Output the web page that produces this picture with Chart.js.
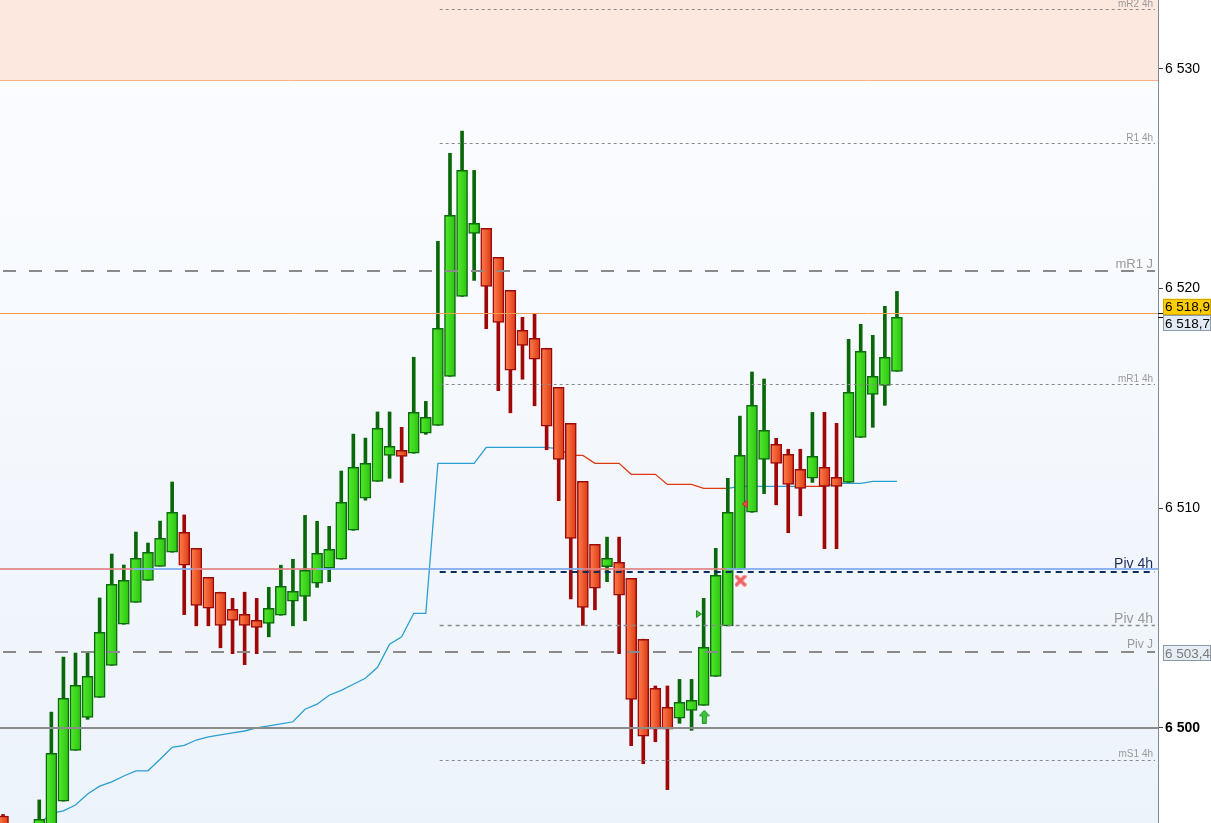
<!DOCTYPE html>
<html>
<head>
<meta charset="utf-8">
<script src="https://cdn.jsdelivr.net/npm/chart.js@4.4.0/dist/chart.umd.min.js"></script>
<style>
html, body { margin: 0; padding: 0; background: #fff; overflow: hidden; }
canvas { display: block; }
</style>
</head>
<body>
<canvas id="chart" width="1211" height="823"></canvas>
<script>
// Bougies (index 0 = la plus ancienne, à gauche)
const opens  = [6495.98,6495.3,6494.9,6495.3,6495.5,6496.65,6498.97,6500.47,6501.38,6502.84,
                6504.71,6505.71,6506.71,6507.35,6507.99,6508.90,6508.17,6506.85,6506.17,6505.39,
                6505.16,6504.89,6504.75,6505.12,6505.76,6505.98,6506.58,6507.26,6507.67,6508.99,
                6510.45,6511.22,6512.40,6512.63,6512.50,6513.41,6513.77,6516.00,6519.64,6522.51,
                6522.74,6521.42,6519.92,6518.10,6517.73,6517.28,6515.50,6513.86,6511.22,6508.35,
                6507.33,6507.53,6506.80,6504.03,6501.79,6500.93,6500.43,6500.79,6501.02,6502.34,
                6504.63,6507.21,6509.81,6512.22,6512.91,6512.45,6511.77,6511.36,6511.86,6511.40,
                6511.17,6513.22,6515.18,6515.59,6516.23];
const highs  = [6496.05,6495.5,6495.5,6496.71,6500.71,6503.22,6503.40,6503.40,6505.91,6507.91,
                6507.41,6508.91,6508.41,6509.41,6511.19,6509.69,6508.17,6506.85,6506.17,6505.89,
                6506.17,6505.89,6506.39,6507.40,6507.67,6509.67,6509.40,6509.17,6511.69,6513.37,
                6513.19,6514.38,6514.38,6513.68,6516.87,6514.86,6522.15,6526.16,6527.17,6525.38,
                6522.74,6521.42,6519.92,6518.69,6518.83,6517.28,6515.50,6513.86,6511.22,6508.35,
                6508.68,6508.68,6506.80,6504.03,6501.90,6501.90,6502.20,6502.20,6505.89,6508.17,
                6511.36,6514.19,6516.20,6515.88,6513.18,6512.68,6512.68,6514.36,6514.36,6513.86,
                6517.69,6518.37,6517.87,6519.19,6519.87];
const lows   = [6495.0,6494.5,6494.6,6495.2,6495.4,6496.65,6498.97,6500.38,6501.38,6502.84,
                6504.71,6505.71,6506.71,6507.35,6507.99,6505.15,6504.64,6504.64,6503.64,6503.37,
                6502.87,6503.37,6504.14,6505.12,6504.64,6504.87,6506.39,6506.65,6507.67,6508.99,
                6510.36,6511.22,6511.36,6511.17,6512.50,6513.36,6513.77,6516.00,6519.64,6520.37,
                6518.17,6515.35,6514.34,6515.87,6514.66,6512.66,6510.34,6505.87,6504.66,6505.37,
                6506.65,6503.37,6499.18,6498.36,6499.36,6497.18,6500.20,6499.88,6501.02,6502.34,
                6504.63,6507.21,6509.81,6510.66,6510.15,6508.88,6509.65,6511.17,6508.15,6508.15,
                6511.17,6513.22,6513.68,6514.68,6516.23];
const closes = [6495.3,6494.8,6495.2,6495.83,6498.83,6501.34,6501.93,6502.34,6504.34,6506.53,
                6506.71,6507.71,6507.99,6508.62,6509.81,6507.40,6505.57,6505.44,6504.66,6504.89,
                6504.66,6504.57,6505.44,6506.44,6506.21,6507.17,6507.94,6508.12,6510.26,6511.86,
                6512.04,6513.63,6512.81,6512.36,6514.36,6514.13,6518.19,6523.33,6525.38,6522.97,
                6520.10,6518.46,6516.28,6517.41,6516.78,6513.73,6512.22,6508.62,6505.48,6506.35,
                6507.71,6506.03,6501.29,6499.61,6499.93,6499.93,6501.16,6501.25,6503.66,6506.94,
                6509.81,6512.40,6514.68,6513.54,6512.04,6511.08,6510.90,6512.36,6510.99,6510.99,
                6515.27,6517.14,6516.00,6516.87,6518.69];

// Stop suiveur (b = support bleu, r = résistance rouge)
const trail = [null,null,null,6495.62,6496.10,6496.21,6496.48,6496.98,6497.34,6497.53,
               6497.80,6498.03,6498.04,6498.56,6499.11,6499.20,6499.44,6499.58,6499.67,6499.76,
               6499.85,6499.99,6500.08,6500.17,6500.27,6500.84,6501.07,6501.48,6501.70,6501.98,
               6502.25,6502.75,6503.80,6504.14,6505.21,6505.21,6512.04,6512.04,6512.04,6512.04,
               6512.77,6512.77,6512.77,6512.77,6512.77,6512.77,6512.70,6512.40,6512.40,6512.04,
               6512.04,6512.04,6511.54,6511.54,6511.54,6511.08,6511.08,6511.08,6510.90,6510.90,
               6510.90,6510.99,6510.99,6510.99,6510.99,6510.99,6510.99,6510.99,6510.99,6511.13,
               6511.13,6511.13,6511.22,6511.22,6511.22];
const trailSide = ['b','b','b','b','b','b','b','b','b','b','b','b','b','b','b','b','b','b','b','b',
                   'b','b','b','b','b','b','b','b','b','b','b','b','b','b','b','b','b','b','b','b',
                   'b','b','b','b','b','b','r','r','r','r','r','r','r','r','r','r','r','r','r','r',
                   'b','b','b','b','b','b','r','r','b','b','b','b','b','b','b'];

// Graduations
const yTicks = [6500, 6510, 6520, 6530];

// Niveaux horizontaux
const levelLabels = ['mR2 4h', 'R1 4h', 'mR1 J', 'mR1 4h', 'Piv 4h', 'Piv 4h', 'Piv J', 'mS1 4h'];
const levelValues = [6532.73, 6526.61, 6520.80, 6515.65, 6507.10, 6504.69, 6503.45, 6498.53];
const levelFrom   = [35.9, 35.9, null, 35.9, 35.9, 35.9, null, 35.9];

// Pivot 4h précédent (rouge sous le prix, bleu au-dessus)
const pivotValue = 6507.24;
const pivotSegFrom = [-0.25, 10.76, 15.73, 26.0, 48.0, 59.9];
const pivotSegSide = ['r', 'b', 'r', 'b', 'r', 'b'];

const zoneLow = 6529.49;
const roundLevel = 6500;
const lastPrice = 6518.9;
const lastClose = 6518.7;
const pivJValue = 6503.4;

// Signaux
const markerX = [57.6, 58.05, 61.4, 61.05];
const markerY = [6505.18, 6500.50, 6510.19, 6506.70];
const markerKind = ['tri-right', 'arrow-up', 'tri-left', 'cross'];

const FONT = '"Liberation Sans", Arial, sans-serif';
const idx = opens.map((_, i) => i);

function fmt(v, dec) {
    const s = v.toFixed(dec).split('.');
    const ent = s[0].replace(/\B(?=(\d{3})+(?!\d))/g, ' ');
    return s.length > 1 ? ent + ',' + s[1] : ent;
}

function isUp(i) { return closes[i] >= opens[i]; }

function bodyFill(c) {
    const i = c.dataIndex;
    const up = isUp(i);
    const chart = c.chart;
    const sx = chart.scales && chart.scales.x;
    if (!sx || !chart.chartArea) return up ? '#3ad61a' : '#ee5a2c';
    const px = sx.getPixelForValue(i);
    const g = chart.ctx.createLinearGradient(px - 5, 0, px + 5, 0);
    if (up) { g.addColorStop(0, '#52ea2c'); g.addColorStop(1, '#2cc412'); }
    else { g.addColorStop(0, '#ff7c4a'); g.addColorStop(1, '#dc3c16'); }
    return g;
}

// petites icônes des signaux
function icon(w, h, draw) {
    const c = document.createElement('canvas');
    c.width = w; c.height = h;
    draw(c.getContext('2d'));
    return c;
}
const icons = {
    'arrow-up': icon(11, 14, g => {
        g.fillStyle = '#3cc43c';
        g.strokeStyle = '#1f9a1f';
        g.lineWidth = 1;
        g.beginPath();
        g.moveTo(5.5, 0.5); g.lineTo(10.5, 6); g.lineTo(7.5, 6); g.lineTo(7.5, 13.5);
        g.lineTo(3.5, 13.5); g.lineTo(3.5, 6); g.lineTo(0.5, 6); g.closePath();
        g.fill(); g.stroke();
    }),
    'tri-right': icon(6, 8, g => {
        g.fillStyle = '#3cc43c';
        g.strokeStyle = '#1a8f1a';
        g.beginPath();
        g.moveTo(0.5, 0.5); g.lineTo(5.5, 4); g.lineTo(0.5, 7.5); g.closePath();
        g.fill(); g.stroke();
    }),
    'tri-left': icon(6, 8, g => {
        g.fillStyle = '#e85050';
        g.strokeStyle = '#c03030';
        g.beginPath();
        g.moveTo(5.5, 0.5); g.lineTo(0.5, 4); g.lineTo(5.5, 7.5); g.closePath();
        g.fill(); g.stroke();
    }),
    'cross': icon(12, 12, g => {
        g.strokeStyle = '#f06262';
        g.lineWidth = 3.5;
        g.lineCap = 'round';
        g.beginPath();
        g.moveTo(2, 2); g.lineTo(10, 10); g.moveTo(10, 2); g.lineTo(2, 10);
        g.stroke();
    })
};

const levelLook = [
    { dash: [3, 3], w: 1, color: '#8a8a8a', size: 10, text: '#9a9a9a', off: 3 },
    { dash: [3, 3], w: 1, color: '#8a8a8a', size: 10, text: '#9a9a9a', off: 3 },
    { dash: [13, 13], w: 2, color: '#8a8a8a', size: 13, text: '#9a9a9a', off: 3 },
    { dash: [3, 3], w: 1, color: '#8a8a8a', size: 10, text: '#9a9a9a', off: 3 },
    { dash: [6, 5], w: 2, color: '#0b2d5c', size: 14, text: '#1b2d55', off: 4 },
    { dash: [4, 4], w: 1.5, color: '#8a8a8a', size: 14, text: '#9a9a9a', off: 3 },
    { dash: [13, 13], w: 2, color: '#8a8a8a', size: 12, text: '#9a9a9a', off: 4 },
    { dash: [3, 3], w: 1, color: '#8a8a8a', size: 10, text: '#9a9a9a', off: 4 }
];

const overlay = {
    id: 'overlay',
    beforeDraw(chart) {
        const { ctx, chartArea: a, scales: { y } } = chart;
        ctx.save();
        ctx.fillStyle = '#ffffff';
        ctx.fillRect(0, 0, chart.width, chart.height);
        const bg = ctx.createLinearGradient(0, a.top, 0, a.bottom);
        bg.addColorStop(0, '#fcfdff');
        bg.addColorStop(1, '#edf3fb');
        ctx.fillStyle = bg;
        ctx.fillRect(a.left, a.top, a.right - a.left, a.bottom - a.top);
        // zone haute
        const zy = y.getPixelForValue(zoneLow);
        ctx.fillStyle = '#fde8df';
        ctx.fillRect(a.left, a.top, a.right - a.left, zy - a.top);
        ctx.strokeStyle = '#f8b088';
        ctx.lineWidth = 1;
        ctx.beginPath();
        ctx.moveTo(a.left, Math.round(zy) + 0.5);
        ctx.lineTo(a.right, Math.round(zy) + 0.5);
        ctx.stroke();
        ctx.restore();
    },
    afterDatasetsDraw(chart) {
        const { ctx, chartArea: a, scales: { x, y } } = chart;
        ctx.save();
        ctx.beginPath();
        ctx.rect(a.left, a.top, a.right - a.left, a.bottom - a.top);
        ctx.clip();

        // pivot 4h précédent, bicolore
        const py = Math.round(y.getPixelForValue(pivotValue));
        ctx.lineWidth = 2;
        pivotSegFrom.forEach((f, k) => {
            const x0 = Math.max(a.left, x.getPixelForValue(f));
            const x1 = k + 1 < pivotSegFrom.length ? x.getPixelForValue(pivotSegFrom[k + 1]) : a.right;
            ctx.strokeStyle = pivotSegSide[k] === 'r' ? 'rgba(226,130,130,0.85)' : 'rgba(130,172,240,0.9)';
            ctx.beginPath();
            ctx.moveTo(x0, py);
            ctx.lineTo(x1, py);
            ctx.stroke();
        });

        // dernier cours
        const ly = Math.round(y.getPixelForValue(lastPrice)) + 0.5;
        ctx.strokeStyle = '#f59a4e';
        ctx.lineWidth = 1;
        ctx.beginPath();
        ctx.moveTo(a.left, ly);
        ctx.lineTo(a.right, ly);
        ctx.stroke();

        // 6500
        const ry = Math.round(y.getPixelForValue(roundLevel));
        ctx.strokeStyle = '#8c8c8c';
        ctx.lineWidth = 2;
        ctx.beginPath();
        ctx.moveTo(a.left, ry);
        ctx.lineTo(a.right, ry);
        ctx.stroke();

        // niveaux pointillés
        levelValues.forEach((v, k) => {
            const look = levelLook[k];
            const yy = Math.round(y.getPixelForValue(v)) + (look.w % 2 ? 0.5 : 0);
            const x0 = levelFrom[k] === null ? a.left : x.getPixelForValue(levelFrom[k]);
            ctx.strokeStyle = look.color;
            ctx.lineWidth = look.w;
            ctx.setLineDash(look.dash);
            ctx.lineDashOffset = -3;
            ctx.beginPath();
            ctx.moveTo(x0, yy);
            ctx.lineTo(a.right - 3, yy);
            ctx.stroke();
            ctx.setLineDash([]);
            ctx.fillStyle = look.text;
            ctx.font = look.size + 'px ' + FONT;
            ctx.textAlign = 'right';
            ctx.textBaseline = 'alphabetic';
            ctx.fillText(levelLabels[k], a.right - 5, yy - look.off);
        });
        ctx.restore();
    },
    afterDraw(chart) {
        const { ctx, chartArea: a, scales: { y } } = chart;
        ctx.save();
        const bx = a.right + 5, bw = 48, bh = 16;
        function box(cy, txt, fill, stroke, color) {
            ctx.fillStyle = fill;
            ctx.fillRect(bx, cy - bh / 2, bw, bh);
            ctx.strokeStyle = stroke;
            ctx.lineWidth = 1;
            ctx.strokeRect(bx + 0.5, Math.round(cy - bh / 2) + 0.5, bw - 1, bh - 1);
            ctx.fillStyle = color;
            ctx.font = '13.5px ' + FONT;
            ctx.textAlign = 'left';
            ctx.textBaseline = 'middle';
            ctx.fillText(txt, bx + 2, cy + 1);
        }
        const ly = y.getPixelForValue(lastPrice);
        const cy = y.getPixelForValue(lastClose);
        box(ly - 6, fmt(lastPrice, 1), '#ffcc00', '#d4a800', '#000');
        box(cy + 6, fmt(lastClose, 1), '#e2eaf4', '#8d9cab', '#000');
        box(y.getPixelForValue(pivJValue), fmt(pivJValue, 1), '#e6edf5', '#8a99a8', '#7a7a7a');
        ctx.strokeStyle = '#000';
        ctx.lineWidth = 1;
        [ly, cy].forEach(v => {
            ctx.beginPath();
            ctx.moveTo(a.right, Math.round(v) + 0.5);
            ctx.lineTo(a.right + 5, Math.round(v) + 0.5);
            ctx.stroke();
        });
        ctx.restore();
    }
};

new Chart(document.getElementById('chart'), {
    type: 'bar',
    data: {
        datasets: [
            {
                type: 'scatter',
                data: markerX.map((v, k) => ({ x: v, y: markerY[k] })),
                pointStyle: c => icons[markerKind[c.dataIndex]],
                order: 0
            },
            {
                label: 'corps',
                data: idx.map(i => ({ x: i, y: [opens[i], closes[i]] })),
                backgroundColor: bodyFill,
                borderColor: c => isUp(c.dataIndex) ? '#0b6b0b' : '#9c0a0a',
                borderWidth: 1.5,
                borderSkipped: false,
                barThickness: 11,
                grouped: false,
                order: 1
            },
            {
                label: 'mèches',
                data: idx.map(i => ({ x: i, y: [lows[i], highs[i]] })),
                backgroundColor: c => isUp(c.dataIndex) ? '#0a680a' : '#a00808',
                borderWidth: 0,
                barThickness: 3,
                grouped: false,
                order: 2
            },
            {
                type: 'line',
                label: 'stop',
                data: idx.map(i => ({ x: i, y: trail[i] })),
                borderWidth: 1.3,
                borderColor: '#2a9fd0',
                segment: {
                    borderColor: s => trailSide[s.p0DataIndex] === 'r' ? '#dd3a10' : '#2a9fd0'
                },
                pointRadius: 0,
                pointHoverRadius: 0,
                tension: 0,
                order: 3
            }
        ]
    },
    options: {
        responsive: false,
        maintainAspectRatio: false,
        devicePixelRatio: 1,
        animation: false,
        layout: { padding: 0, autoPadding: false },
        plugins: { legend: { display: false }, tooltip: { enabled: false } },
        scales: {
            x: {
                type: 'linear',
                min: -0.25,
                max: 95.61,
                offset: false,
                display: false
            },
            y: {
                type: 'linear',
                position: 'right',
                min: 6495.66,
                max: 6533.14,
                afterBuildTicks: s => { s.ticks = yTicks.map(v => ({ value: v })); },
                afterFit: s => { s.width = 53; s.paddingTop = 0; s.paddingBottom = 0; },
                grid: { drawOnChartArea: false, drawTicks: true, tickLength: 5, color: '#444' },
                border: { display: true, color: '#7d8c9b', width: 1 },
                ticks: {
                    padding: 2,
                    color: '#000',
                    font: c => ({ size: 14, family: FONT, weight: c.tick && c.tick.value === roundLevel ? 'bold' : 'normal' }),
                    callback: v => fmt(v, 0)
                }
            }
        }
    },
    plugins: [overlay]
});
</script>
</body>
</html>
